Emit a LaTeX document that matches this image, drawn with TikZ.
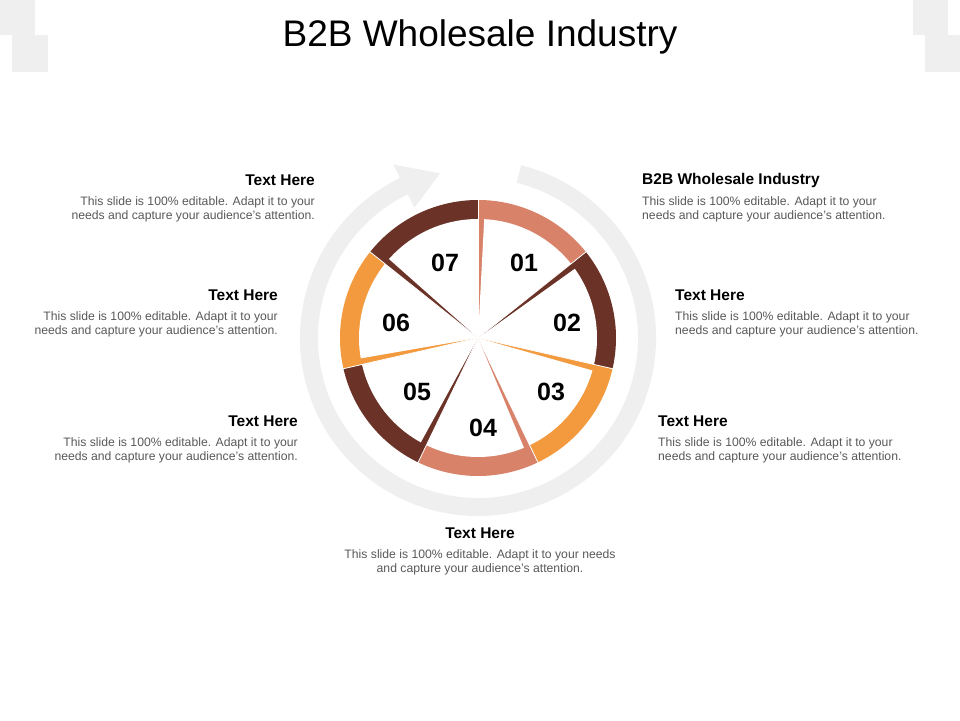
\documentclass[tikz,border=0pt]{standalone}
\usepackage{fontspec}
\setmainfont{Liberation Sans}
\definecolor{salm}{HTML}{D9826A}
\definecolor{dbr}{HTML}{6B3328}
\definecolor{org}{HTML}{F39A3F}
\definecolor{lg}{HTML}{EFEFEF}
\definecolor{bodyc}{HTML}{595959}
\begin{document}
\begin{tikzpicture}[x=1pt,y=1pt,
  head/.style={font=\fontsize{15.5}{17}\selectfont\bfseries,inner sep=0pt},
  bodyt/.style={font=\fontsize{12.2}{14}\selectfont,text=bodyc,inner sep=0pt},
  num/.style={font=\fontsize{25}{27}\selectfont\bfseries,inner sep=0pt}]
\useasboundingbox (0,0) rectangle (960,720);
\fill[white] (0,0) rectangle (960,720);
% corner decor
\fill[lg] (0,720) rectangle (35,685);
\fill[lg] (12,685) rectangle (48,648);
\fill[lg] (913,720) rectangle (948,685);
\fill[lg] (925,685) rectangle (960,648);
\node[font=\fontsize{37}{40}\selectfont,inner sep=0pt] (title) at (480,683) {B2B Wholesale Industry};
\coordinate (C) at (478,382);
% gray circular arrow
\draw[lg,line width=18pt] ([shift={(76:169)}]C) arc[start angle=76,end angle=-244,radius=169];
\fill[lg] ([shift={(116:145)}]C) -- ([shift={(116:193)}]C) -- ([shift={(103:169)}]C) -- cycle;
% slices
\foreach \k/\c in {1/salm,2/dbr,3/org,4/salm,5/dbr,6/org,7/dbr}{
  \pgfmathsetmacro{\aa}{90-51.4286*(\k-1)}
  \pgfmathsetmacro{\ab}{\aa-51.4286}
  \pgfmathsetmacro{\aw}{\aa-3}
  \fill[\c] (C) -- ([shift={(\aa:138)}]C) arc[start angle=\aa,end angle=\ab,radius=138] -- cycle;
  \fill[white] (C) -- ([shift={(\aw:119)}]C) arc[start angle=\aw,end angle=\ab,radius=119] -- cycle;
}
\foreach \k in {1,...,7}{
  \pgfmathsetmacro{\aa}{90-51.4286*(\k-1)}
  \draw[white,line width=0.8pt] (C) -- ([shift={(\aa:139)}]C);
}
\node[num] (n1) at (524,457) {01};
\node[num] (n2) at (567,397) {02};
\node[num] (n3) at (551,328) {03};
\node[num] (n4) at (483,292) {04};
\node[num] (n5) at (417,328) {05};
\node[num] (n6) at (396,397) {06};
\node[num] (n7) at (445,457) {07};
% texts right
\node[head,anchor=west] (h1) at (642,540) {B2B Wholesale Industry};
\node[bodyt,anchor=north west,align=left] (b1) at (642,524) {This slide is 100\% editable. Adapt it to your\\needs and capture your audience's attention.};
\node[head,anchor=west] (h2) at (675,425) {Text Here};
\node[bodyt,anchor=north west,align=left] (b2) at (675,409) {This slide is 100\% editable. Adapt it to your\\needs and capture your audience's attention.};
\node[head,anchor=west] (h3) at (658,299) {Text Here};
\node[bodyt,anchor=north west,align=left] (b3) at (658,283) {This slide is 100\% editable. Adapt it to your\\needs and capture your audience's attention.};
% bottom
\node[head] (h4) at (480,187) {Text Here};
\node[bodyt,anchor=north,align=center] (b4) at (480,171) {This slide is 100\% editable. Adapt it to your needs\\and capture your audience's attention.};
% left
\node[head,anchor=east] (h5) at (298,299) {Text Here};
\node[bodyt,anchor=north east,align=right] (b5) at (298,283) {This slide is 100\% editable. Adapt it to your\\needs and capture your audience's attention.};
\node[head,anchor=east] (h6) at (278,425) {Text Here};
\node[bodyt,anchor=north east,align=right] (b6) at (278,409) {This slide is 100\% editable. Adapt it to your\\needs and capture your audience's attention.};
\node[head,anchor=east] (h7) at (315,540) {Text Here};
\node[bodyt,anchor=north east,align=right] (b7) at (315,524) {This slide is 100\% editable. Adapt it to your\\needs and capture your audience's attention.};
\end{tikzpicture}
\end{document}
